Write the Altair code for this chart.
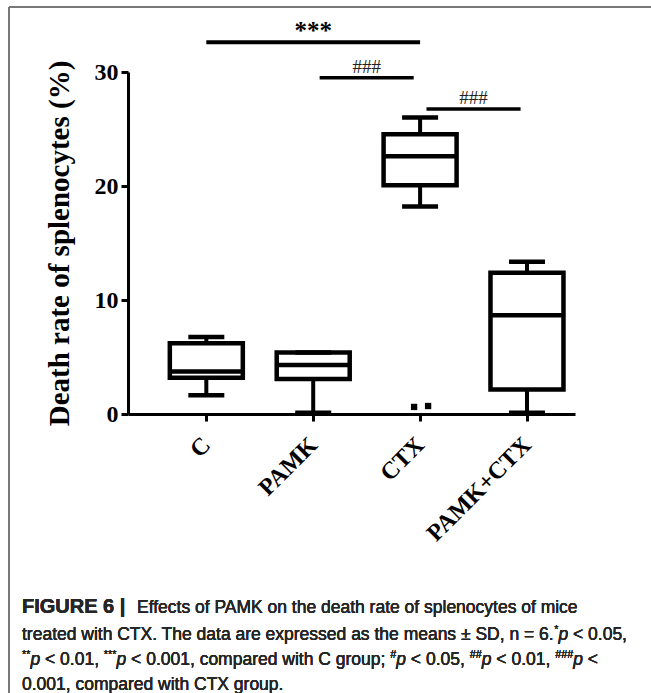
import json
import altair as alt
import pandas as pd

# Box-plot summary per treatment group (death rate of splenocytes, %)
groups = ["C", "PAMK", "CTX", "PAMK+CTX"]
whisker_low = [1.65, 0.1, 18.2, 0.1]
q1 = [3.18, 3.07, 20.07, 2.15]
median = [3.73, 4.3, 22.6, 8.67]
q3 = [6.2, 5.4, 24.55, 12.4]
whisker_high = [6.75, 5.4, 26.0, 13.35]

# Outlying points
outlier_group = ["CTX", "CTX"]
outlier_value = [0.62, 0.7]

# Significance brackets
bracket_from = ["C", "PAMK", "CTX"]
bracket_to = ["CTX", "CTX", "PAMK+CTX"]
bracket_level = [32.6, 29.5, 26.75]
bracket_label = ["***", "###", "###"]

# Caption: each line is a run of (text, style) pieces; style n=normal, i=italic, s=superscript
caption_head = "FIGURE 6 |"
caption_lines = [
    [("Effects of PAMK on the death rate of splenocytes of mice", "n")],
    [("treated with CTX. The data are expressed as the means \u00b1 SD, n = 6.", "n"),
     ("*", "s"), ("p", "i"), (" < 0.05,", "n")],
    [("**", "s"), ("p", "i"), (" < 0.01, ", "n"), ("***", "s"), ("p", "i"),
     (" < 0.001, compared with C group; ", "n"), ("#", "s"), ("p", "i"),
     (" < 0.05, ", "n"), ("##", "s"), ("p", "i"), (" < 0.01, ", "n"),
     ("###", "s"), ("p", "i"), (" <", "n")],
    [("0.001, compared with CTX group.", "n")],
]

idx = {g: i for i, g in enumerate(groups)}
boxes = pd.DataFrame({
    "group": groups, "pos": list(range(len(groups))),
    "lo": whisker_low, "q1": q1, "med": median, "q3": q3, "hi": whisker_high,
})
outliers = pd.DataFrame({
    "pos": [idx[g] for g in outlier_group],
    "value": outlier_value,
    "k": list(range(len(outlier_value))),
})
brackets = pd.DataFrame({
    "a": [idx[g] for g in bracket_from],
    "b": [idx[g] for g in bracket_to],
    "level": bracket_level,
    "label": bracket_label,
})
brackets["mid"] = (brackets["a"] + brackets["b"]) / 2
# hash brackets are drawn slightly inset from the group centres
inset = brackets["label"].eq("###") * 0.06
brackets["a2"] = brackets["a"] + inset
brackets["b2"] = brackets["b"] - inset

SERIF = "Liberation Serif"
SANS = "Liberation Sans"
W, H = 447, 342

label_expr = f"{json.dumps(groups)}[datum.value]"
xscale = alt.Scale(domain=[-0.686, 3.4025], nice=False, zero=False)
yscale = alt.Scale(domain=[0, 30], nice=False)

xaxis = alt.Axis(
    values=list(range(len(groups))), labelExpr=label_expr, title=None,
    labelAngle=-45, labelAlign="right", labelBaseline="middle", labelOverlap=False,
    labelFont=SERIF, labelFontWeight="bold", labelFontSize=24, labelColor="black",
    labelPadding=20, tickSize=7, tickWidth=3, tickColor="black",
    domainWidth=3, domainColor="black", grid=False,
)
yaxis = alt.Axis(
    values=[0, 10, 20, 30], title="Death rate of splenocytes (%)",
    titleFont=SERIF, titleFontWeight="bold", titleFontSize=29, titleColor="black",
    titlePadding=20,
    labelFont=SERIF, labelFontWeight="bold", labelFontSize=24, labelColor="black",
    labelPadding=3, tickSize=7, tickWidth=3, tickColor="black",
    domainWidth=3, domainColor="black", grid=False,
)

base = alt.Chart(boxes)
x = alt.X("pos:Q", scale=xscale, axis=xaxis)

whisk_low = base.mark_rule(color="black", strokeWidth=4).encode(
    x=x, y=alt.Y("lo:Q", scale=yscale, axis=yaxis), y2="q1:Q")
whisk_high = base.mark_rule(color="black", strokeWidth=4).encode(
    x="pos:Q", y="q3:Q", y2="hi:Q")
box = base.mark_bar(size=73, fill="white", stroke="black", strokeWidth=4.5).encode(
    x="pos:Q", y="q1:Q", y2="q3:Q")
tick_style = dict(orient="horizontal", thickness=4.5, color="black", opacity=1)
med = base.mark_tick(size=73, **tick_style).encode(x="pos:Q", y="med:Q")
cap_low = base.mark_tick(size=36, **tick_style).encode(x="pos:Q", y="lo:Q")
cap_high = base.mark_tick(size=36, **tick_style).encode(x="pos:Q", y="hi:Q")

# the two outliers sit side by side around the group centre
dot_layers = []
for k, off in zip(range(len(outlier_value)), [-6, 8]):
    dot_layers.append(
        alt.Chart(outliers).transform_filter(f"datum.k == {k}").mark_square(
            size=40, color="black", opacity=1, xOffset=off).encode(
            x="pos:Q", y="value:Q"))

bk = alt.Chart(brackets)
star_lines = bk.transform_filter("datum.label == '***'").mark_rule(
    color="black", strokeWidth=4).encode(x="a2:Q", x2="b2:Q", y="level:Q")
hash_lines = bk.transform_filter("datum.label == '###'").mark_rule(
    color="black", strokeWidth=3.5).encode(x="a2:Q", x2="b2:Q", y="level:Q")
star_text = bk.transform_filter("datum.label == '***'").mark_text(
    font=SERIF, fontSize=25, fontWeight="bold", baseline="alphabetic", dy=-3,
    color="black").encode(x="mid:Q", y="level:Q", text="label:N")
hash_text = bk.transform_filter("datum.label == '###'").mark_text(
    font=SERIF, fontSize=19, baseline="alphabetic", dy=-5,
    color="#222222").encode(x="mid:Q", y="level:Q", text="label:N")

# frame around the figure
frame_top = alt.Chart(boxes).mark_rule(color="#777777", strokeWidth=2).encode(
    x=alt.value(-119), x2=alt.value(651 - 128), y=alt.value(-65))
frame_left = alt.Chart(boxes).mark_rule(color="#777777", strokeWidth=2).encode(
    x=alt.value(-119), y=alt.value(-65), y2=alt.value(693 - 72))

# Advance widths of Liberation Sans (per 1000 em), used to lay out caption runs
ADV = {" ": 278, ".": 278, ",": 278, ";": 278, "*": 389, "#": 556, "<": 584,
       "=": 584, "\u00b1": 549, "|": 260}
ADV.update({d: 556 for d in "0123456789"})
ADV.update(dict(zip("abcdefghijklmnopqrstuvwxyz",
                    [556, 556, 500, 556, 556, 278, 556, 556, 222, 222, 500, 222, 833,
                     556, 556, 556, 556, 333, 500, 278, 556, 500, 722, 500, 500, 500])))
ADV.update(dict(zip("ABCDEFGHIJKLMNOPQRSTUVWXYZ",
                    [667, 667, 722, 722, 667, 611, 778, 722, 278, 500, 667, 556, 833,
                     722, 778, 667, 778, 722, 667, 611, 722, 667, 944, 667, 667, 611])))

SUP = 0.62


def run_width(run, size):
    return sum(sum(ADV.get(c, 556) for c in t) * (size * SUP if st == "s" else size) / 1000
               for t, st in run)


left_px = -106
size = 605 / (run_width(caption_lines[1], 1000) / 1000)
cap_y = [535, 562, 587, 612]
color = "#262626"

head = alt.Chart(boxes).mark_text(
    font=SANS, fontSize=20, fontWeight="bold", align="left", baseline="middle",
    color=color).encode(x=alt.value(left_px), y=alt.value(cap_y[0]),
                        text=alt.value(caption_head))
cap_layers = [head]
for i, run in enumerate(caption_lines):
    xpos = left_px + (115 if i == 0 else 0)
    base_y = cap_y[i] + size * 0.36
    for text, st in run:
        fs = size * SUP if st == "s" else size
        # leading blanks are not rendered, so the run starts after them instead
        lead = len(text) - len(text.lstrip(" "))
        cap_layers.append(alt.Chart(boxes).mark_text(
            font=SANS, fontSize=fs, fontStyle="italic" if st == "i" else "normal",
            fontWeight="normal", align="left", baseline="alphabetic",
            color=color).encode(
                x=alt.value(round(xpos + lead * ADV[" "] * fs / 1000, 2)),
                y=alt.value(round(base_y - (size * 0.42 if st == "s" else 0), 2)),
                text=alt.value(text.strip(" "))))
        xpos += run_width([(text, st)], size)

chart = alt.layer(
    frame_top, frame_left,
    whisk_low, whisk_high, box, med, cap_low, cap_high, *dot_layers,
    star_lines, hash_lines, star_text, hash_text, *cap_layers,
).properties(
    width=W, height=H, background="white",
    padding={"left": 128, "top": 72, "right": 651 - 128 - W, "bottom": 693 - 72 - H},
    autosize=alt.AutoSizeParams(type="none"),
).configure_view(stroke=None)

chart.save("out.html", embed_options={"renderer": "svg", "actions": False})
